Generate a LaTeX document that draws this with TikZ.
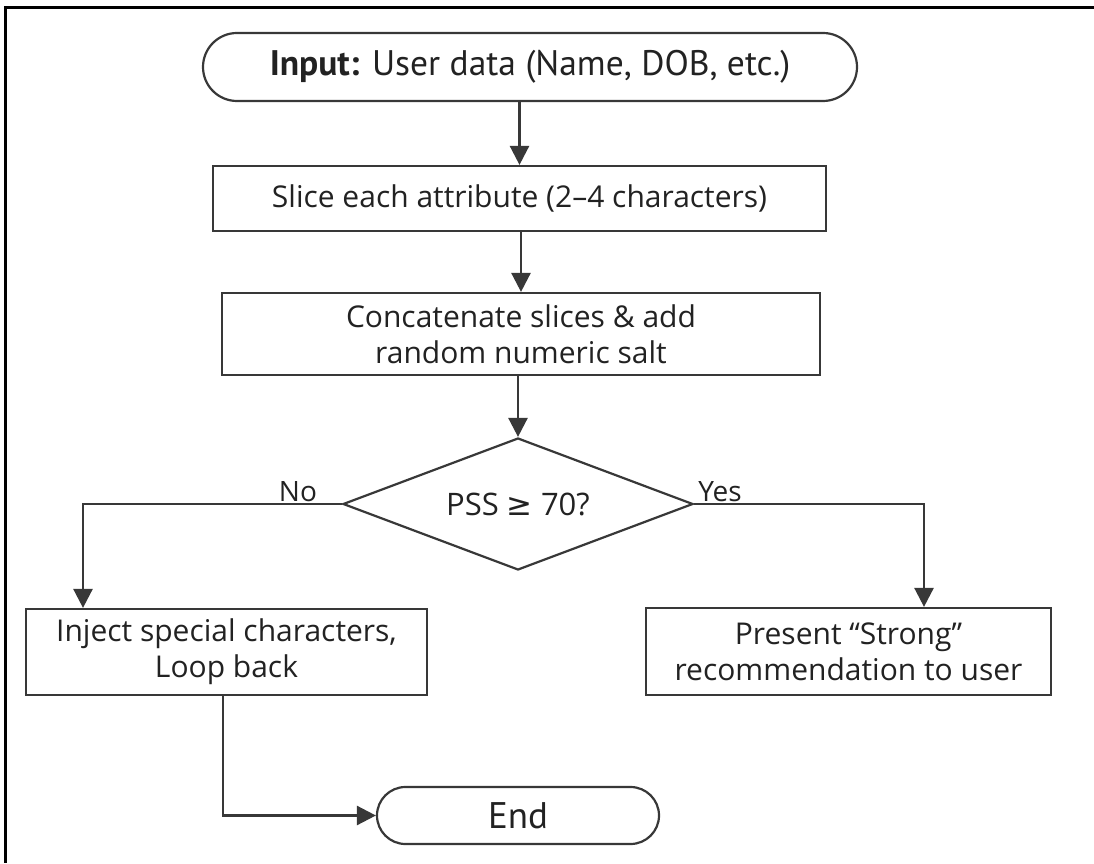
\documentclass[tikz,border=0pt]{standalone}
\usepackage{fontspec}
\setmainfont{Open Sans}
\newfontfamily\condfont{PT Sans}
\newfontfamily\symfont{DejaVu Sans}
\usetikzlibrary{shapes.geometric,shapes.misc,arrows.meta}
\definecolor{ink}{HTML}{222222}
\definecolor{linec}{HTML}{383838}
\tikzset{
  box/.style={draw=linec, line width=2.2pt, rectangle, align=center, text=ink,
    inner sep=0pt, font=\fontsize{30}{36}\selectfont},
  term/.style={draw=linec, line width=2.2pt, rounded rectangle, rounded rectangle arc length=180,
    align=center, text=ink, inner sep=0pt, font=\condfont\fontsize{37}{40}\selectfont},
  decision/.style={draw=linec, line width=2.2pt, diamond, aspect=2.7, inner sep=0pt, text=ink,
    font=\fontsize{31}{36}\selectfont},
  arr/.style={draw=linec, line width=2.6pt, -{Triangle[length=19pt,width=19pt]}},
  lbl/.style={text=ink, font=\fontsize{28}{32}\selectfont, inner sep=1pt},
  frame/.style={draw=black, line width=3.5pt}
}
\begin{document}
\begin{tikzpicture}[x=1pt,y=1pt]
\useasboundingbox (0,0) rectangle (1094,863);
\fill[white] (0,0) rectangle (1094,863);
% frame
\coordinate (ftl) at (5.5,855.5);
\coordinate (ftr) at (1094,855.5);
\coordinate (fbl) at (5.5,0);
\draw[frame] (ftr) -- (ftl) -- (fbl);
% nodes
\node[term, minimum width=654pt, minimum height=68pt, font=\condfont\fontsize{35.5}{40}\selectfont] (in) at (530,796) {\textbf{Input:} User data (Name, DOB, etc.)};
\node[box, minimum width=613pt, minimum height=65pt] (slice) at (519.5,664.5) {Slice each attribute (2–4 characters)};
\node[box, minimum width=598pt, minimum height=82pt] (concat) at (521,529) {Concatenate slices \& add\\random numeric salt};
\node[decision, minimum width=350pt, minimum height=132pt] (dec) at (518,359) {PSS {\symfont ≥} 70?};
\node[box, minimum width=401pt, minimum height=86pt] (inject) at (226.5,211) {Inject special characters,\\Loop back};
\node[box, minimum width=405pt, minimum height=87pt] (present) at (848.5,211.5) {Present “Strong”\\recommendation to user};
\node[term, minimum width=282pt, minimum height=57pt] (end) at (518,47.5) {End};
% helper coordinates
\coordinate (nx) at (83,0);
\coordinate (yx) at (924,0);
\coordinate (lx) at (223,0);
% connectors
\draw[arr] (slice.north |- in.south) -- (slice.north);
\draw[arr] (concat.north |- slice.south) -- (concat.north);
\draw[arr] (dec.north |- concat.south) -- (dec.north);
\draw[arr] (dec.west) -| (inject.north -| nx);
\draw[arr] (dec.east) -| (present.north -| yx);
\draw[arr] (inject.south -| lx) |- (end.west);
% labels
\node[lbl, anchor=south] (no) at (298,360) {No};
\node[lbl, anchor=south] (yes) at (720,360) {Yes};
\end{tikzpicture}
\end{document}
